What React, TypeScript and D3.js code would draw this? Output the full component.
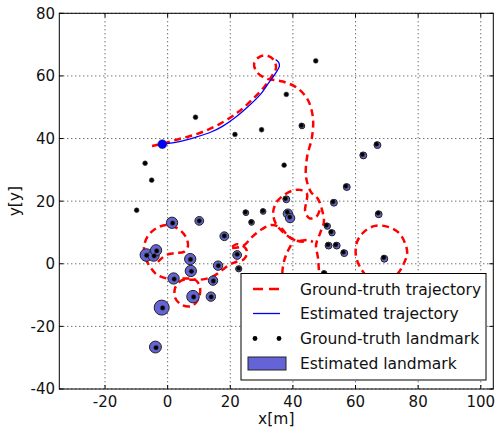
import React from "react";
import * as d3 from "d3";

// ground-truth trajectory pieces [x, y] in metres
const gtMain: [number, number][] = [
  [-5.0, 37.6], [-1.8, 38.3], [2.4, 39.5], [7.2, 40.8], [11.9, 42.4], [16.7, 44.7],
  [22.2, 48.2], [27.6, 53.0], [31.1, 56.8], [33.3, 60.0], [34.6, 62.5], [33.9, 65.1],
  [31.7, 66.5], [29.2, 66.0], [27.6, 63.8], [28.6, 61.1], [31.4, 59.2], [36.8, 58.2],
  [41.6, 56.0], [44.8, 52.3], [46.4, 46.6], [46.1, 40.5], [44.5, 33.9], [44.2, 27.7],
  [45.8, 22.9], [48.0, 20.7], [49.3, 17.2], [49.9, 13.4], [48.7, 9.8], [47.4, 6.0],
  [48.0, 1.9], [48.6, -6.8],
];
const gtLoopMid: [number, number][] = [
  [43.5, 7.0], [40.4, 7.6], [37.2, 9.8], [34.6, 12.7], [33.7, 16.2], [34.6, 19.4],
  [36.8, 21.7], [39.7, 23.3], [42.3, 23.6], [44.5, 22.3], [44.2, 19.4], [43.9, 16.9],
  [45.2, 14.6], [47.4, 14.9], [48.7, 17.5],
];
const gtArc: [number, number][] = [
  [20.6, 5.0], [24.1, 5.7], [27.0, 8.6], [30.2, 11.1], [33.3, 12.4], [36.2, 11.4],
  [38.5, 8.9], [41.4, 7.3], [44.5, 7.6], [46.4, 7.0],
];
const gtInner: [number, number][] = [
  [36.5, -6.8], [36.8, -1.0], [37.8, 2.8], [39.4, 6.0],
];
const gtLeft: [number, number][] = [
  [-3.1, 0.6], [-0.5, 2.8], [2.4, 3.4], [5.2, 3.8], [6.5, 5.7], [5.6, 8.9], [3.0, 11.4],
  [-0.5, 12.4], [-4.0, 11.1], [-6.3, 8.9], [-7.5, 5.7], [-7.2, 2.2], [-5.6, -1.0],
  [-3.4, -3.5], [-0.2, -4.7], [3.0, -4.7], [6.2, -4.7], [8.8, -5.1], [10.3, -7.3],
  [10.0, -10.8], [7.8, -13.5], [4.6, -13.2], [2.4, -10.9], [2.4, -7.7], [4.3, -5.4],
  [7.2, -5.1], [10.3, -5.1], [14.2, -4.2], [17.4, -2.0], [19.6, -0.4], [21.8, 0.6],
  [24.4, 1.5], [25.4, 3.8], [24.1, 5.7], [21.8, 6.2], [19.9, 4.7],
];
const gtRight: [number, number][] = [
  [63.4, -3.9], [61.4, -1.0], [60.1, 2.8], [60.5, 7.0], [62.7, 10.2], [66.2, 12.1],
  [70.4, 11.8], [73.9, 9.8], [75.8, 6.6], [76.5, 3.4], [75.2, -0.4], [73.3, -3.3],
  [69.5, -5.2],
];

// estimated trajectory
const estTrajectory: [number, number][] = [
  [-1.7, 38.2], [0.9, 38.5], [4.1, 39.1], [8.9, 40.4], [13.7, 42.0], [17.5, 43.9],
  [21.7, 46.8], [25.8, 50.3], [29.7, 54.2], [32.2, 57.7], [34.5, 60.9], [35.7, 63.1],
  [35.4, 64.4], [34.5, 65.2],
];

// ground-truth landmarks
const gtLandmarks: [number, number][] = [
  [8.9, 46.8], [21.5, 41.3], [30.0, 42.8], [-7.2, 32.1], [-5.1, 26.7], [-9.9, 17.1],
  [24.8, 16.5], [37.9, 54.1], [47.3, 64.8], [42.7, 44.2], [37.2, 31.5], [62.2, 34.9],
  [66.7, 38.2], [56.9, 24.8], [37.6, 20.8], [52.8, 19.8], [67.2, 16.2], [30.4, 16.9],
  [38.2, 16.5], [39.0, 14.9], [26.7, 13.4], [50.7, 12.3], [52.2, 10.2], [51.2, 6.1],
  [53.7, 6.1], [56.1, 3.7], [49.9, -2.9], [69.0, 2.0], [22.2, 3.0], [22.7, -1.5],
  [18.1, 8.9], [16.2, -0.6], [14.6, -5.5], [13.9, -10.6], [1.6, 13.0], [10.1, 13.7],
  [-6.7, 2.7], [-4.3, 2.5], [-3.5, 4.1], [7.3, 1.4], [7.6, -2.4], [2.1, -4.9],
  [8.3, -10.6], [-1.6, -14.1], [-3.7, -26.8],
];

// estimated landmarks [x, y, radius]
const estLandmarks: [number, number, number][] = [
  [62.5, 34.6, 1.1], [67.0, 37.9, 1.1], [57.2, 24.5, 1.1], [37.9, 20.6, 1.1],
  [53.1, 19.5, 1.1], [67.4, 15.8, 1.1], [38.4, 16.0, 1.5], [39.1, 14.6, 1.5],
  [51.0, 12.0, 1.0], [52.5, 9.9, 1.0], [51.4, 5.8, 1.1], [54.0, 5.8, 1.1],
  [56.4, 3.4, 1.1], [69.2, 1.6, 1.1], [22.2, 2.8, 1.4], [22.7, -1.6, 1.0],
  [18.1, 8.8, 1.4], [16.1, -0.6, 1.5], [14.5, -5.4, 1.5], [13.8, -10.5, 1.5],
  [1.4, 13.1, 1.8], [10.1, 13.7, 1.4], [-6.8, 2.8, 2.0], [-4.5, 2.6, 1.8],
  [-3.7, 4.3, 1.8], [7.2, 1.5, 1.8], [7.4, -2.3, 1.8], [1.9, -4.7, 1.8],
  [8.1, -10.5, 2.0], [-1.9, -14.0, 2.4], [-3.9, -26.6, 1.9], [25.0, 16.3, 0.9],
  [26.8, 13.2, 0.9], [30.5, 16.7, 0.9], [50.0, -3.1, 0.9], [42.9, 44.0, 0.9],
];

const xTicks = [-20, 0, 20, 40, 60, 80, 100];
const yTicks = [-40, -20, 0, 20, 40, 60, 80];
const legendLabels = [
  "Ground-truth trajectory",
  "Estimated trajectory",
  "Ground-truth landmark",
  "Estimated landmark",
];

const W = 495, H = 431;
const L = 59.3, R = 493.3, T = 13.3, B = 389;
const font = "DejaVu Sans, sans-serif";

export default function App() {
  const x = d3.scaleLinear().domain([-34.6, 104.0]).range([L, R]);
  const y = d3.scaleLinear().domain([-40, 80]).range([B, T]);
  const line = d3
    .line<[number, number]>()
    .x((d) => x(d[0]))
    .y((d) => y(d[1]))
    .curve(d3.curveCatmullRom.alpha(0.5));
  const gtPieces = [gtMain, gtLoopMid, gtArc, gtInner, gtLeft, gtRight];
  const lx = 241, ly = 273.5;
  const rows = [289, 313.5, 338.5, 363.5];

  return (
    <svg
      width={W}
      height={H}
      style={{ position: "absolute", left: 0, top: 0, background: "#fff" }}
      fontFamily={font}
    >
      <defs>
        <clipPath id="plot">
          <rect x={L} y={T} width={R - L} height={B - T} />
        </clipPath>
      </defs>
      {/* grid */}
      <g stroke="#000" strokeWidth={1} strokeDasharray="1,3" opacity={0.8}>
        {xTicks.map((t) => (
          <line key={"gx" + t} x1={x(t)} x2={x(t)} y1={T} y2={B} />
        ))}
        {yTicks.map((t) => (
          <line key={"gy" + t} x1={L} x2={R} y1={y(t)} y2={y(t)} />
        ))}
      </g>
      <g clipPath="url(#plot)">
        {gtPieces.map((p, i) => (
          <path
            key={"gt" + i}
            d={line(p) || ""}
            fill="none"
            stroke="#ff0000"
            strokeWidth={2.5}
            strokeDasharray="7,4.5"
          />
        ))}
        <path d={line(estTrajectory) || ""} fill="none" stroke="#0000ff" strokeWidth={1.3} />
        <circle cx={x(estTrajectory[0][0])} cy={y(estTrajectory[0][1])} r={4.5} fill="#0000ff" stroke="#333" strokeWidth={0.5} />
        {estLandmarks.map((d, i) => (
          <ellipse
            key={"el" + i}
            cx={x(d[0])}
            cy={y(d[1])}
            rx={x(d[2]) - x(0)}
            ry={x(d[2]) - x(0)}
            fill="#6464d8"
            stroke="#222"
            strokeWidth={1}
          />
        ))}
        {gtLandmarks.map((d, i) => (
          <circle key={"gl" + i} cx={x(d[0])} cy={y(d[1])} r={2.4} fill="#000" stroke="#444" strokeWidth={0.6} />
        ))}
      </g>
      {/* frame and ticks */}
      <rect x={L} y={T} width={R - L} height={B - T} fill="none" stroke="#000" strokeWidth={1} />
      <g stroke="#000" strokeWidth={1}>
        {xTicks.map((t) => (
          <g key={"tx" + t}>
            <line x1={x(t)} x2={x(t)} y1={B} y2={B - 4} />
            <line x1={x(t)} x2={x(t)} y1={T} y2={T + 4} />
          </g>
        ))}
        {yTicks.map((t) => (
          <g key={"ty" + t}>
            <line x1={L} x2={L + 4} y1={y(t)} y2={y(t)} />
            <line x1={R} x2={R - 4} y1={y(t)} y2={y(t)} />
          </g>
        ))}
      </g>
      <g fontSize={15} fill="#111">
        {xTicks.map((t) => (
          <text key={"lx" + t} x={x(t)} y={407} textAnchor="middle">
            {t}
          </text>
        ))}
        {yTicks.map((t) => (
          <text key={"ly" + t} x={55} y={y(t)} dy="0.36em" textAnchor="end">
            {t}
          </text>
        ))}
      </g>
      <text x={(L + R) / 2} y={424} textAnchor="middle" fontSize={15.5} fill="#111">
        x[m]
      </text>
      <text
        transform={`translate(20,${(T + B) / 2}) rotate(-90)`}
        textAnchor="middle"
        fontSize={15.5}
        fill="#111"
      >
        y[y]
      </text>
      {/* legend */}
      <rect x={lx} y={ly} width={245} height={106.5} fill="#fff" stroke="#000" strokeWidth={1} />
      <line x1={253} x2={280} y1={rows[0]} y2={rows[0]} stroke="#ff0000" strokeWidth={2.5} strokeDasharray="10,6" />
      <line x1={253} x2={280} y1={rows[1]} y2={rows[1]} stroke="#0000ff" strokeWidth={1.3} />
      <circle cx={255} cy={rows[2]} r={2.4} fill="#000" />
      <circle cx={279} cy={rows[2]} r={2.4} fill="#000" />
      <rect x={248} y={rows[3] - 6.5} width={38} height={13} fill="#6464d8" stroke="#222" strokeWidth={1} />
      {legendLabels.map((s, i) => (
        <text key={s} x={300} y={rows[i]} dy="0.36em" fontSize={15.5} fill="#111">
          {s}
        </text>
      ))}
    </svg>
  );
}
